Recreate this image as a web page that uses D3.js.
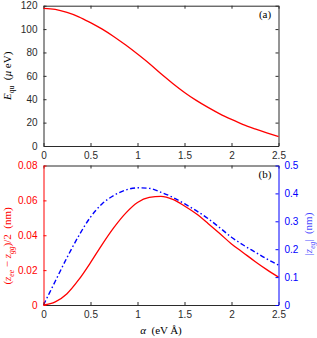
<!DOCTYPE html>
<html>
<head>
<meta charset="utf-8">
<script src="https://cdn.jsdelivr.net/npm/d3@7"></script>
<style>
  body { margin: 0; background: #fff; }
  svg { display: block; }
  .tick text { font-family: "Liberation Sans", Arial, sans-serif; font-size: 10px; }
  .lbl { font-family: "Liberation Serif", "DejaVu Serif", serif; font-size: 11px; }
</style>
</head>
<body>
<svg id="chart"></svg>
<script>
// alpha (eV Å) sample points
const alpha = [0, 0.125, 0.25, 0.375, 0.5, 0.625, 0.75, 0.875, 1.0, 1.125, 1.25,
  1.375, 1.5, 1.625, 1.75, 1.875, 2.0, 2.125, 2.25, 2.375, 2.5];

// panel (a): E_qu in µeV
const eQu = [117.7, 116.8, 114.2, 110.5, 105.5, 100, 93.5, 86.3, 78.6, 70.5, 61.7,
  53.5, 45.8, 39, 33, 27.5, 22.7, 18.3, 14.6, 11.2, 8];

// panel (b): (z_ee - z_gg)/2 in nm (left axis) and |z_eg| in nm (right axis)
const zDiff = [0, 0.0018, 0.0065, 0.0145, 0.0243, 0.0348, 0.0445, 0.0527, 0.0588, 0.0617, 0.0623,
  0.0606, 0.0568, 0.0523, 0.0468, 0.041, 0.035, 0.03, 0.025, 0.0203, 0.016];
const zEg = [0, 0.085, 0.17, 0.248, 0.315, 0.363, 0.393, 0.412, 0.42, 0.418, 0.404,
  0.386, 0.363, 0.338, 0.31, 0.277, 0.243, 0.215, 0.19, 0.165, 0.143];

const xTicks = [0, 0.5, 1, 1.5, 2, 2.5];
const eTicks = [0, 20, 40, 60, 80, 100, 120];
const zDiffTicks = [0, 0.02, 0.04, 0.06, 0.08];
const zEgTicks = [0, 0.1, 0.2, 0.3, 0.4, 0.5];

const W = 317, H = 338;
const RED = "#ff0000", BLUE = "#0000ff", AX = "#2b2b2b";

const svg = d3.select("#chart").attr("width", W).attr("height", H);

const x = d3.scaleLinear().domain([0, 2.5]).range([43.5, 278.5]);
const yA = d3.scaleLinear().domain([0, 120]).range([146, 5.7]);
const yL = d3.scaleLinear().domain([0, 0.08]).range([305, 165.5]);
const yR = d3.scaleLinear().domain([0, 0.5]).range([305, 165.5]);

const fmt = d => String(d);

function styleAxis(g, color) {
  g.select(".domain").attr("stroke", color).attr("stroke-width", 1);
  g.selectAll(".tick line").attr("stroke", color);
  g.selectAll(".tick text").attr("fill", color);
}

// ---------- panel (a)
svg.append("g").attr("transform", `translate(0,${yA(0)})`)
  .call(d3.axisBottom(x).tickValues(xTicks).tickFormat(fmt).tickSizeInner(-3).tickSizeOuter(0).tickPadding(6))
  .call(g => styleAxis(g, AX));
svg.append("g").attr("transform", `translate(0,${yA(120)})`)
  .call(d3.axisTop(x).tickValues(xTicks).tickFormat("").tickSizeInner(-3).tickSizeOuter(0))
  .call(g => styleAxis(g, AX));
svg.append("g").attr("transform", `translate(${x(0)},0)`)
  .call(d3.axisLeft(yA).tickValues(eTicks).tickFormat(fmt).tickSizeInner(-3).tickSizeOuter(0).tickPadding(6))
  .call(g => styleAxis(g, AX));
svg.append("g").attr("transform", `translate(${x(2.5)},0)`)
  .call(d3.axisRight(yA).tickValues(eTicks).tickFormat("").tickSizeInner(-3).tickSizeOuter(0))
  .call(g => styleAxis(g, AX));

svg.append("path")
  .datum(alpha.map((a, i) => [a, eQu[i]]))
  .attr("fill", "none").attr("stroke", RED).attr("stroke-width", 1.3)
  .attr("d", d3.line().x(d => x(d[0])).y(d => yA(d[1])).curve(d3.curveMonotoneX));

svg.append("text").attr("class", "lbl").attr("x", 265).attr("y", 18)
  .attr("text-anchor", "middle").attr("font-size", 9).text("(a)");

const la = svg.append("text").attr("class", "lbl")
  .attr("transform", `translate(11,${(yA(0) + yA(120)) / 2}) rotate(-90)`)
  .attr("text-anchor", "middle");
la.append("tspan").attr("font-style", "italic").text("E");
la.append("tspan").attr("font-size", 7.5).attr("dy", 2.5).text("qu");
la.append("tspan").attr("dy", -2.5).text("\u2002(");
la.append("tspan").attr("font-style", "italic").text("\u00b5");
la.append("tspan").text("\u2009eV)");

// ---------- panel (b)
const zLine = d3.line().x(d => x(d[0])).curve(d3.curveMonotoneX);

svg.append("path")
  .datum(alpha.map((a, i) => [a, zEg[i]]))
  .attr("fill", "none").attr("stroke", BLUE).attr("stroke-width", 1.4)
  .attr("stroke-dasharray", "5,2.5,1.5,2.5")
  .attr("d", zLine.y(d => yR(d[1])));

svg.append("path")
  .datum(alpha.map((a, i) => [a, zDiff[i]]))
  .attr("fill", "none").attr("stroke", RED).attr("stroke-width", 1.3)
  .attr("d", zLine.y(d => yL(d[1])));

svg.append("g").attr("transform", `translate(0,${yL(0)})`)
  .call(d3.axisBottom(x).tickValues(xTicks).tickFormat(fmt).tickSizeInner(-3).tickSizeOuter(0).tickPadding(6))
  .call(g => styleAxis(g, AX));
svg.append("g").attr("transform", `translate(0,${yL(0.08)})`)
  .call(d3.axisTop(x).tickValues(xTicks).tickFormat("").tickSizeInner(-3).tickSizeOuter(0))
  .call(g => styleAxis(g, AX));
svg.append("g").attr("transform", `translate(${x(0)},0)`)
  .call(d3.axisLeft(yL).tickValues(zDiffTicks).tickFormat(fmt).tickSizeInner(-3).tickSizeOuter(0).tickPadding(6))
  .call(g => styleAxis(g, RED));
svg.append("g").attr("transform", `translate(${x(2.5)},0)`)
  .call(d3.axisRight(yR).tickValues(zEgTicks).tickFormat(fmt).tickSizeInner(-3).tickSizeOuter(0).tickPadding(6))
  .call(g => styleAxis(g, BLUE));

svg.append("text").attr("class", "lbl").attr("x", 265).attr("y", 178)
  .attr("text-anchor", "middle").attr("font-size", 9).text("(b)");

const lb = svg.append("text").attr("class", "lbl").attr("fill", RED)
  .attr("transform", `translate(11,246) rotate(-90)`)
  .attr("text-anchor", "middle");
lb.append("tspan").text("(");
lb.append("tspan").attr("font-style", "italic").text("z");
lb.append("tspan").attr("font-style", "italic").attr("font-size", 7.5).attr("dy", 2.5).text("ee");
lb.append("tspan").attr("dy", -2.5).text(" \u2212 ");
lb.append("tspan").attr("font-style", "italic").text("z");
lb.append("tspan").attr("font-style", "italic").attr("font-size", 7.5).attr("dy", 2.5).text("gg");
lb.append("tspan").attr("dy", -2.5).text(")/2\u2002(nm)");

const lr = svg.append("text").attr("class", "lbl").attr("fill", BLUE).attr("fill-opacity", 0.75)
  .attr("transform", `translate(312,234) rotate(-90)`)
  .attr("text-anchor", "middle");
lr.append("tspan").text("|");
lr.append("tspan").attr("font-style", "italic").text("z");
lr.append("tspan").attr("font-style", "italic").attr("font-size", 7.5).attr("dy", 2.5).text("eg");
lr.append("tspan").attr("dy", -2.5).text("|\u2002(nm)");

const lx = svg.append("text").attr("class", "lbl")
  .attr("x", (x(0) + x(2.5)) / 2).attr("y", 334).attr("text-anchor", "middle");
lx.append("tspan").attr("font-style", "italic").text("\u03b1");
lx.append("tspan").text("\u2002(eV\u2009\u00c5)");
</script>
</body>
</html>
